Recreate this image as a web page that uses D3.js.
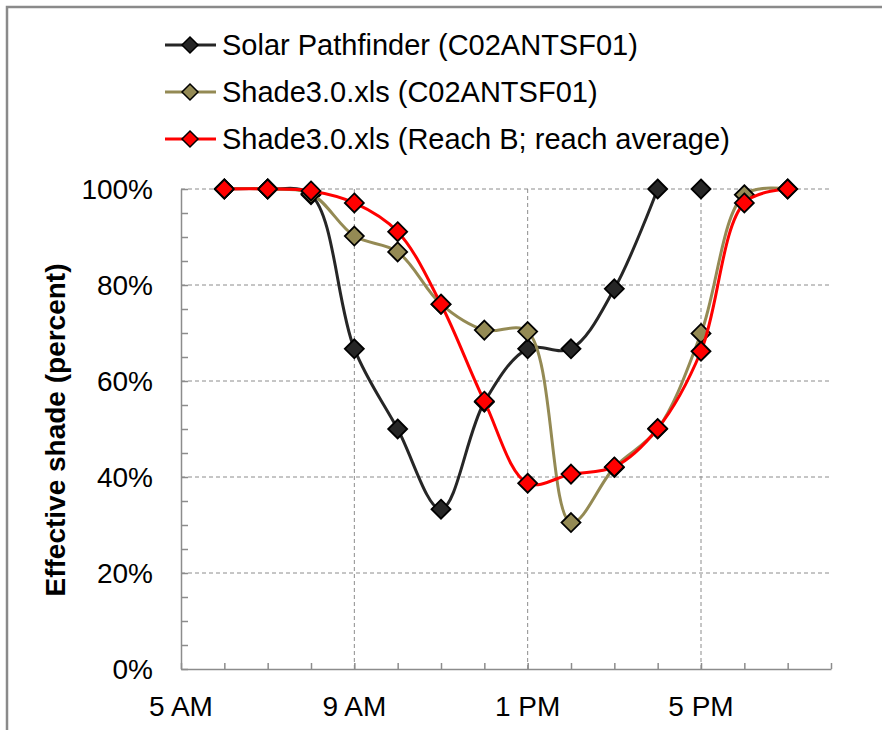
<!DOCTYPE html>
<html>
<head>
<meta charset="utf-8">
<script src="https://cdn.jsdelivr.net/npm/d3@7"></script>
<style>
  body { margin: 0; background: #fff; }
  svg { display: block; font-family: "Liberation Sans", Arial, sans-serif; }
</style>
</head>
<body>
<div id="container"></div>
<script>
/* CONSTANTS AND GLOBALS */
const width = 882,
  height = 730,
  margin = { top: 189, right: 51, bottom: 61, left: 181 };

// hour of day (24h clock) for each reading
const hours = [6, 7, 8, 9, 10, 11, 12, 13, 14, 15, 16, 17, 18, 19];

// effective shade, percent (null = no reading)
const pathfinder = [100, 100, 98.8, 66.7, 50, 33.3, 55.6, 66.7, 66.7, 79.2, 100, 100, null, null];
const pathfinderBreakAfter = 16; // no line drawn between 4 PM and 5 PM
const shadeSite = [100, 100, 99, 90.2, 86.9, 76, 70.6, 70.3, 30.5, 42, 50, 69.9, 98.8, 100];
const shadeReach = [100, 100, 99.6, 97.1, 91.1, 76, 55.8, 38.7, 40.6, 42.1, 50.1, 66.2, 97.1, 100];

const seriesNames = [
  "Solar Pathfinder (C02ANTSF01)",
  "Shade3.0.xls (C02ANTSF01)",
  "Shade3.0.xls (Reach B; reach average)"
];
const lineColors = ["#262626", "#948a54", "#ff0000"];

const xTickHours = [5, 9, 13, 17];
const xTickLabels = ["5 AM", "9 AM", "1 PM", "5 PM"];
const yTicks = [0, 20, 40, 60, 80, 100];
const yTitle = "Effective shade (percent)";

/* SCALES */
const xScale = d3.scaleLinear()
  .domain([5, 20])
  .range([margin.left, width - margin.right]);

const yScale = d3.scaleLinear()
  .domain([0, 100])
  .range([height - margin.bottom, margin.top]);

const svg = d3.select("#container").append("svg")
  .attr("width", width)
  .attr("height", height);

svg.append("rect")
  .attr("width", width).attr("height", height)
  .attr("fill", "#fff");

// outer chart frame (only top and left edges are inside the picture)
svg.append("path")
  .attr("d", `M7,${height + 5} V7 H${width + 5}`)
  .attr("fill", "none")
  .attr("stroke", "#8a8a8a")
  .attr("stroke-width", 2.5);

/* GRIDLINES */
const grid = svg.append("g");
grid.selectAll("line.h")
  .data(yTicks.filter(d => d > 0))
  .join("line")
  .attr("class", "h")
  .attr("x1", xScale(5)).attr("x2", xScale(20))
  .attr("y1", d => yScale(d)).attr("y2", d => yScale(d))
  .attr("stroke", "#8c8c8c")
  .attr("stroke-dasharray", "4,3");

grid.selectAll("line.v")
  .data(xTickHours.filter(d => d > 5))
  .join("line")
  .attr("class", "v")
  .attr("x1", d => xScale(d)).attr("x2", d => xScale(d))
  .attr("y1", yScale(100)).attr("y2", yScale(0))
  .attr("stroke", "#8c8c8c")
  .attr("stroke-dasharray", "4,3");

/* AXES */
const xAxis = svg.append("g")
  .attr("transform", `translate(0, ${yScale(0)})`)
  .call(d3.axisBottom(xScale)
    .tickValues(d3.range(5, 21))
    .tickSize(-6)
    .tickSizeOuter(0)
    .tickFormat(""));

const yAxis = svg.append("g")
  .attr("transform", `translate(${xScale(5)}, 0)`)
  .call(d3.axisLeft(yScale)
    .tickValues(d3.range(0, 101, 5))
    .tickSize(-7)
    .tickSizeOuter(0)
    .tickFormat(""));

[xAxis, yAxis].forEach(a => {
  a.selectAll("path, line").attr("stroke", "#8c8c8c").attr("stroke-width", 1.5);
});

svg.append("g").selectAll("text")
  .data(xTickHours)
  .join("text")
  .attr("x", d => xScale(d))
  .attr("y", yScale(0) + 47)
  .attr("text-anchor", "middle")
  .attr("font-size", "28px")
  .attr("fill", "#000")
  .text((d, i) => xTickLabels[i]);

svg.append("g").selectAll("text")
  .data(yTicks)
  .join("text")
  .attr("x", 153)
  .attr("y", d => yScale(d))
  .attr("dy", "0.35em")
  .attr("text-anchor", "end")
  .attr("font-size", "28px")
  .attr("fill", "#000")
  .text(d => d + "%");

svg.append("text")
  .attr("transform", `translate(65, 430) rotate(-90)`)
  .attr("text-anchor", "middle")
  .attr("font-size", "28px")
  .attr("font-weight", "bold")
  .attr("fill", "#000")
  .text(yTitle);

/* SERIES */
const allSeries = [pathfinder, shadeSite, shadeReach].map((vals, i) => ({
  name: seriesNames[i],
  color: lineColors[i],
  points: hours.map((h, j) => ({ h, v: vals[j] })).filter(d => d.v != null)
}));

const lineGen = d3.line()
  .x(d => xScale(d.h))
  .y(d => yScale(d.v))
  .curve(d3.curveCatmullRom.alpha(0.5));

const diamond = s => `M0,${-s} L${s},0 L0,${s} L${-s},0 Z`;

allSeries.forEach((s, i) => {
  // split a series into segments where the line is broken
  let segments = [s.points];
  if (i === 0) {
    segments = [
      s.points.filter(d => d.h <= pathfinderBreakAfter),
      s.points.filter(d => d.h > pathfinderBreakAfter)
    ];
  }
  const g = svg.append("g");
  g.selectAll("path.line")
    .data(segments.filter(seg => seg.length > 1))
    .join("path")
    .attr("class", "line")
    .attr("d", lineGen)
    .attr("fill", "none")
    .attr("stroke", s.color)
    .attr("stroke-width", 3);

  g.selectAll("path.mark")
    .data(s.points)
    .join("path")
    .attr("class", "mark")
    .attr("transform", d => `translate(${xScale(d.h)}, ${yScale(d.v)})`)
    .attr("d", diamond(9.5))
    .attr("fill", s.color)
    .attr("stroke", "#000")
    .attr("stroke-width", 1.8);
});

/* LEGEND */
const legend = svg.append("g");
const legendRows = legend.selectAll("g")
  .data(allSeries)
  .join("g")
  .attr("transform", (d, i) => `translate(0, ${45 + i * 47})`);

legendRows.append("line")
  .attr("x1", 165).attr("x2", 216)
  .attr("stroke", d => d.color)
  .attr("stroke-width", 3);

legendRows.append("path")
  .attr("transform", "translate(190, 0)")
  .attr("d", diamond(8))
  .attr("fill", d => d.color)
  .attr("stroke", "#000")
  .attr("stroke-width", 1.5);

legendRows.append("text")
  .attr("x", 222)
  .attr("dy", "0.35em")
  .attr("font-size", "29px")
  .attr("fill", "#000")
  .text(d => d.name);
</script>
</body>
</html>
